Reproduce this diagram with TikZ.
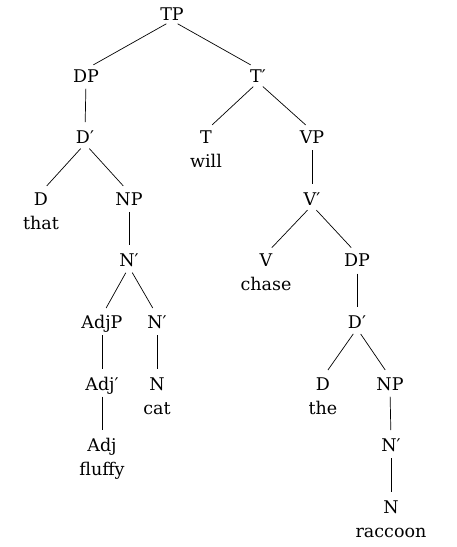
\documentclass[tikz,border=0pt]{standalone}
\usepackage{fontspec}
\setmainfont{DejaVu Serif}
\begin{document}
\begin{tikzpicture}[x=1pt,y=-1pt,
  cat/.style={inner sep=0pt,text height=12.8pt,text depth=0pt,font=\fontsize{17.5}{20}\selectfont},
  word/.style={inner sep=0pt,anchor=base,font=\fontsize{17.5}{20}\selectfont},
  branch/.style={line width=0.7pt,shorten <=6.5pt,shorten >=8.5pt}]
\useasboundingbox (0,0) rectangle (457,547);
\def\la{14}\def\lb{75.6}\def\lc{137.2}\def\ld{198.8}\def\le{260.4}\def\lf{322}\def\lg{383.6}\def\lh{445.2}\def\li{506.8}
\node[cat] (tp) at (172,\la) {TP};
\node[cat] (dp) at (86,\lb) {DP};
\node[cat] (tbar) at (258,\lb) {T′};
\node[cat] (dbar) at (85,\lc) {D′};
\node[cat] (t) at (206,\lc) {T};
\node[cat] (vp) at (312,\lc) {VP};
\node[cat] (d) at (41,\ld) {D};
\node[cat] (np) at (129,\ld) {NP};
\node[cat] (vbar) at (312,\ld) {V′};
\node[cat] (nbar) at (129,\le) {N′};
\node[cat] (v) at (266,\le) {V};
\node[cat] (dpb) at (357,\le) {DP};
\node[cat] (adjp) at (102,\lf) {AdjP};
\node[cat] (nbarb) at (157,\lf) {N′};
\node[cat] (dbarb) at (357,\lf) {D′};
\node[cat] (adjbar) at (102,\lg) {Adj′};
\node[cat] (n) at (157,\lg) {N};
\node[cat] (db) at (323,\lg) {D};
\node[cat] (npb) at (390,\lg) {NP};
\node[cat] (adj) at (102,\lh) {Adj};
\node[cat] (nbarc) at (391,\lh) {N′};
\node[cat] (nb) at (391,\li) {N};
% words
\node[word] (will) at ([yshift=-24pt]t.base) {will};
\node[word] (that) at ([yshift=-24pt]d.base) {that};
\node[word] (chase) at ([yshift=-24pt]v.base) {chase};
\node[word] (catw) at ([yshift=-24pt]n.base) {cat};
\node[word] (the) at ([yshift=-24pt]db.base) {the};
\node[word] (fluffy) at ([yshift=-24pt]adj.base) {fluffy};
\node[word] (raccoon) at ([yshift=-24pt]nb.base) {raccoon};
% branches
\draw[branch] (tp.south) -- (dp.north);
\draw[branch] (tp.south) -- (tbar.north);
\draw[branch] (dp.south) -- (dbar.north);
\draw[branch] (tbar.south) -- (t.north);
\draw[branch] (tbar.south) -- (vp.north);
\draw[branch] (dbar.south) -- (d.north);
\draw[branch] (dbar.south) -- (np.north);
\draw[branch] (vp.south) -- (vbar.north);
\draw[branch] (np.south) -- (nbar.north);
\draw[branch] (vbar.south) -- (v.north);
\draw[branch] (vbar.south) -- (dpb.north);
\draw[branch] (nbar.south) -- (adjp.north);
\draw[branch] (nbar.south) -- (nbarb.north);
\draw[branch] (dpb.south) -- (dbarb.north);
\draw[branch] (adjp.south) -- (adjbar.north);
\draw[branch] (nbarb.south) -- (n.north);
\draw[branch] (dbarb.south) -- (db.north);
\draw[branch] (dbarb.south) -- (npb.north);
\draw[branch] (adjbar.south) -- (adj.north);
\draw[branch] (npb.south) -- (nbarc.north);
\draw[branch] (nbarc.south) -- (nb.north);
\end{tikzpicture}
\end{document}
